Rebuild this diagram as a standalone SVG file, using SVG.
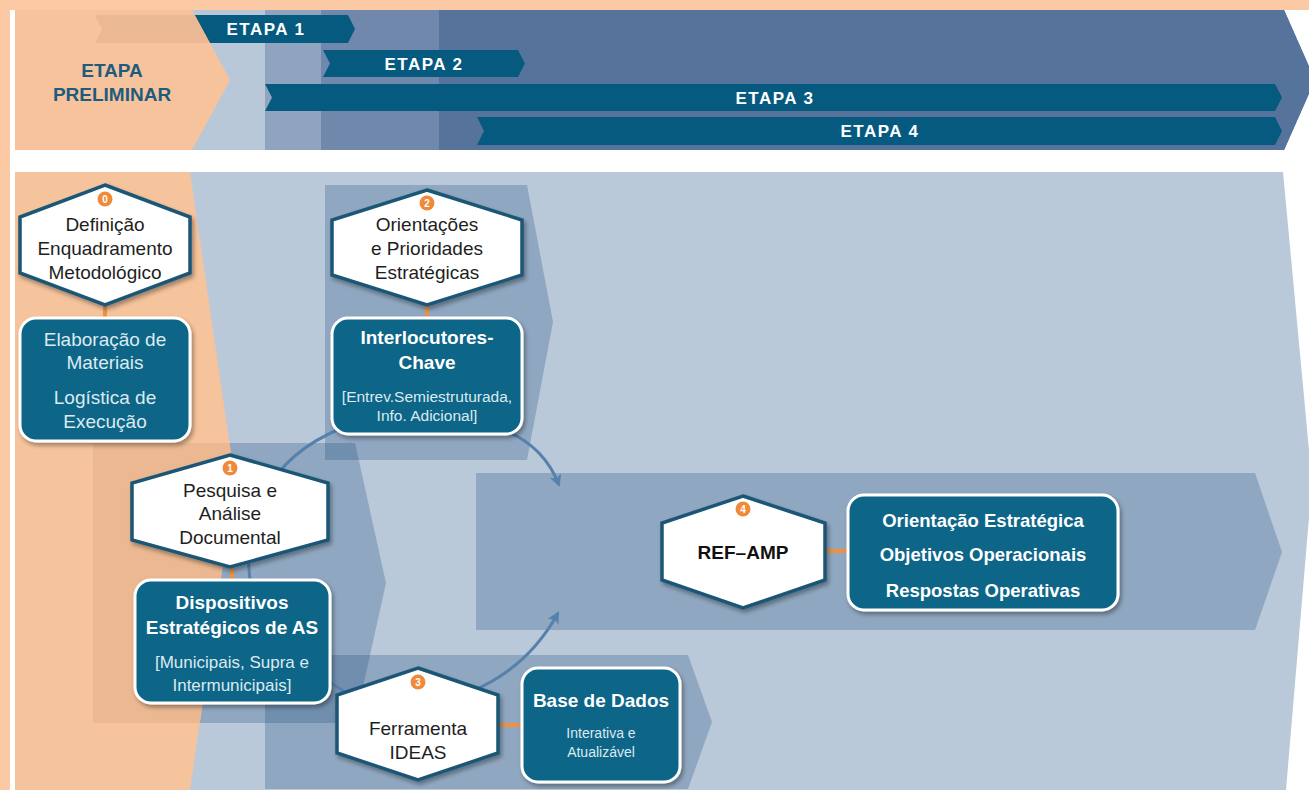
<svg xmlns="http://www.w3.org/2000/svg" width="1309" height="790" viewBox="0 0 1309 790">
<defs>
<style>
.hex{fill:#FFFFFF;stroke:#1B5776;stroke-width:3.5;stroke-linejoin:miter}
.box{fill:#0C6587;stroke:#FFFFFF;stroke-width:3}
.ht{font-family:"Liberation Sans",Arial,sans-serif;font-size:19px;fill:#1E1E1E;text-anchor:middle}
.bt{font-family:"Liberation Sans",Arial,sans-serif;font-size:19px;fill:#FFFFFF;font-weight:bold;text-anchor:middle}
.bl{font-family:"Liberation Sans",Arial,sans-serif;font-size:19px;fill:#DCEAF1;text-anchor:middle}
.bs{font-family:"Liberation Sans",Arial,sans-serif;font-size:15.5px;fill:#DCEAF1;text-anchor:middle}
.et{font-family:"Liberation Sans",Arial,sans-serif;font-size:17px;fill:#FFFFFF;font-weight:bold;text-anchor:middle;letter-spacing:1.5px}
.pre{font-family:"Liberation Sans",Arial,sans-serif;font-size:19px;fill:#1E5B7D;font-weight:bold;text-anchor:middle}
.bar{fill:#065A80}
.ov{fill:#1F4E7E;fill-opacity:0.28}
.oc{stroke:#F0913F;stroke-width:4;fill:none}
.bc{stroke:#5681AD;stroke-width:3;fill:none}
.bdg{fill:#EF8A3B}
.bn{font-family:"Liberation Sans",Arial,sans-serif;font-size:10px;fill:#FFFFFF;font-weight:bold;text-anchor:middle}
</style>
<filter id="sh" x="-10%" y="-10%" width="125%" height="125%">
<feDropShadow dx="2" dy="3" stdDeviation="2" flood-color="#000" flood-opacity="0.35"/>
</filter>
<marker id="ah" markerWidth="14" markerHeight="12" refX="10" refY="6" orient="auto" markerUnits="userSpaceOnUse">
<path d="M0,0 L12,6 L0,12 L3,6 z" fill="#5681AD"/>
</marker>
</defs>

<!-- frame -->
<rect x="0" y="0" width="1309" height="790" fill="#FFFFFF"/>
<rect x="0" y="0" width="1309" height="10" fill="#FBCAA5"/>
<rect x="0" y="0" width="10" height="790" fill="#FBCAA5"/>

<!-- top panel -->
<g id="top-panel">
<polygon points="15,10 1284,10 1315,80 1284,150 15,150" fill="#B9C8D9"/>
<polygon points="265,10 1284,10 1315,80 1284,150 265,150" fill="#8FA4BF"/>
<polygon points="321,10 1284,10 1315,80 1284,150 321,150" fill="#6F88AB"/>
<polygon points="439,10 1284,10 1315,80 1284,150 439,150" fill="#56739B"/>
<polygon class="bar" points="193,15 348,15 355,29 348,43 207,43"/>
<polygon class="bar" points="323,50 518,50 525,63.5 518,77 323,77 330,63.5"/>
<polygon class="bar" points="265,84 1275,84 1282,97.5 1275,111 265,111 272,97.5"/>
<polygon class="bar" points="477,117 1275,117 1282,131 1275,145 477,145 484,131"/>
<polygon points="15,10 192,10 230,80 192,150 15,150" fill="#F7C39C"/>
<polygon points="95,15 194.7,15 209.9,43 95,43 102,29" fill="#EAB893"/>
<text class="pre" x="112" y="77">ETAPA</text>
<text class="pre" x="112" y="101">PRELIMINAR</text>
<text class="et" x="266" y="35">ETAPA 1</text>
<text class="et" x="424" y="69.5">ETAPA 2</text>
<text class="et" x="775" y="103.5">ETAPA 3</text>
<text class="et" x="880" y="137">ETAPA 4</text>
</g>

<!-- bottom panel -->
<g id="bottom-panel">
<polygon points="15,172 1283,172 1312,482 1286,790 15,790" fill="#BAC9DA"/>
<polygon class="ov" points="325,185 527,185 553,322 527,460 325,460"/>
<polygon class="ov" points="93,443 355,443 386,583 355,723 93,723"/>
<polygon class="ov" points="476,473 1255,473 1282,552 1255,630 476,630"/>
<polygon class="ov" points="265,655 688,655 712,722 688,789 265,789"/>
<polygon points="15,172 190,172 235,481 190,790 15,790" fill="#F5C39C"/>
<polygon points="93,443 229.5,443 235,481 199.8,723 93,723" fill="#EBB891"/>
</g>

<!-- connectors -->
<g id="connectors">
<line class="oc" x1="105" y1="300" x2="105" y2="320"/>
<line class="oc" x1="427" y1="300" x2="427" y2="320"/>
<line class="oc" x1="232" y1="562" x2="232" y2="582"/>
<line class="oc" x1="495" y1="725" x2="524" y2="725"/>
<line class="oc" x1="822" y1="551" x2="850" y2="551"/>
<path class="bc" d="M252,592 C238,520 268,458 342,428"/>
<path class="bc" d="M498,428 Q543,443 559,485" marker-end="url(#ah)"/>
<path class="bc" d="M470,692 Q528,668 558,613" marker-end="url(#ah)"/>
<path class="bc" d="M322,678 Q340,688 352,697"/>
</g>

<!-- nodes -->
<g id="n0">
<polygon class="hex" filter="url(#sh)" points="105,185 190,217 190,273 105,305 20,273 20,217"/>
<circle class="bdg" cx="105" cy="199" r="7.5"/><text class="bn" x="105" y="202.5">0</text>
<text class="ht" x="105" y="231">Definição</text>
<text class="ht" x="105" y="255">Enquadramento</text>
<text class="ht" x="105" y="279">Metodológico</text>
</g>
<g id="b0">
<rect class="box" filter="url(#sh)" x="20" y="318" width="170" height="123" rx="16"/>
<text class="bl" x="105" y="346">Elaboração de</text>
<text class="bl" x="105" y="369">Materiais</text>
<text class="bl" x="105" y="404">Logística de</text>
<text class="bl" x="105" y="428">Execução</text>
</g>
<g id="n2">
<polygon class="hex" filter="url(#sh)" points="427,190 522,220 522,275 427,305 332,275 332,220"/>
<circle class="bdg" cx="427" cy="203" r="7.5"/><text class="bn" x="427" y="206.5">2</text>
<text class="ht" x="427" y="231">Orientações</text>
<text class="ht" x="427" y="255">e Prioridades</text>
<text class="ht" x="427" y="279">Estratégicas</text>
</g>
<g id="b2">
<rect class="box" filter="url(#sh)" x="332" y="318" width="190" height="116" rx="16"/>
<text class="bt" x="427" y="344">Interlocutores-</text>
<text class="bt" x="427" y="369">Chave</text>
<text class="bs" x="427" y="402">[Entrev.Semiestruturada,</text>
<text class="bs" x="427" y="421">Info.  Adicional]</text>
</g>
<g id="n1">
<polygon class="hex" filter="url(#sh)" points="230,455 328,483 328,540 230,567 132,540 132,483"/>
<circle class="bdg" cx="230" cy="468" r="7.5"/><text class="bn" x="230" y="471.5">1</text>
<text class="ht" x="230" y="497">Pesquisa e</text>
<text class="ht" x="230" y="520">Análise</text>
<text class="ht" x="230" y="544">Documental</text>
</g>
<g id="b1">
<rect class="box" filter="url(#sh)" x="135" y="580" width="195" height="123" rx="16"/>
<text class="bt" x="232" y="609">Dispositivos</text>
<text class="bt" x="232" y="634">Estratégicos de AS</text>
<text class="bl" x="232" y="668" style="font-size:17px">[Municipais, Supra e</text>
<text class="bl" x="232" y="691" style="font-size:17px">Intermunicipais]</text>
</g>
<g id="n3">
<polygon class="hex" filter="url(#sh)" points="418,668 498,695 498,753 418,780 337,753 337,695"/>
<circle class="bdg" cx="418" cy="682" r="7.5"/><text class="bn" x="418" y="685.5">3</text>
<text class="ht" x="418" y="735">Ferramenta</text>
<text class="ht" x="418" y="759">IDEAS</text>
</g>
<g id="b3">
<rect class="box" filter="url(#sh)" x="522" y="668" width="158" height="114" rx="16"/>
<text class="bt" x="601" y="707">Base de Dados</text>
<text class="bs" x="601" y="738" style="font-size:14px">Interativa  e</text>
<text class="bs" x="601" y="757" style="font-size:14px">Atualizável</text>
</g>
<g id="n4">
<polygon class="hex" filter="url(#sh)" points="743,496 825,523 825,580 743,608 662,580 662,523"/>
<circle class="bdg" cx="743" cy="509" r="7.5"/><text class="bn" x="743" y="512.5">4</text>
<text class="ht" x="743" y="559" style="font-weight:bold;fill:#111">REF–AMP</text>
</g>
<g id="b4">
<rect class="box" filter="url(#sh)" x="848" y="495" width="270" height="115" rx="16"/>
<text class="bt" x="983" y="527" style="font-size:18.5px">Orientação Estratégica</text>
<text class="bt" x="983" y="561" style="font-size:18.5px">Objetivos Operacionais</text>
<text class="bt" x="983" y="597" style="font-size:18.5px">Respostas Operativas</text>
</g>
</svg>
